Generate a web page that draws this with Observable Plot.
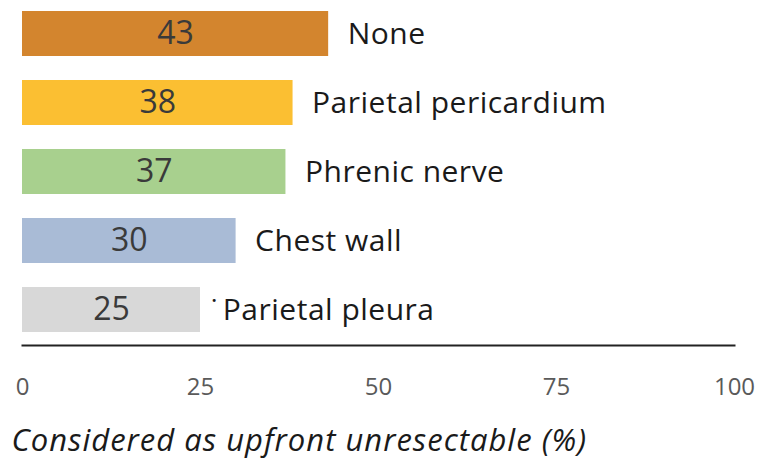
<!DOCTYPE html>
<html>
<head>
<meta charset="utf-8">
<script src="https://cdn.jsdelivr.net/npm/d3@7"></script>
<script src="https://cdn.jsdelivr.net/npm/@observablehq/plot@0.6"></script>
<style>
  html, body { margin: 0; padding: 0; background: #fff; }
  #chart svg { display: block; }
  .cat-label text { letter-spacing: 0.5px; }
  .axis-title text { letter-spacing: 1px; }
</style>
</head>
<body>
<div id="chart"></div>
<script>
const categories = ["None", "Parietal pericardium", "Phrenic nerve", "Chest wall", "Parietal pleura"];
const labels = ["None", "Parietal pericardium", "Phrenic nerve", "Chest wall", "˙\u2009Parietal pleura"];
const values = [43, 38, 37, 30, 25];
const colors = ["#D3852E", "#FBBF32", "#A8D08E", "#A9BBD6", "#D8D8D8"];
const xTicks = [0, 25, 50, 75, 100];
const axisTitle = "Considered as upfront unresectable (%)";

const data = categories.map((c, i) => ({cat: c, label: labels[i], value: values[i], marked: labels[i].startsWith("˙")}));

const chart = Plot.plot({
  width: 762,
  height: 462,
  marginLeft: 22,
  marginRight: 28,
  marginTop: 10,
  marginBottom: 117,
  style: {fontFamily: "'Open Sans', sans-serif", background: "#fff"},
  x: {domain: [0, 100]},
  y: {domain: categories, range: [10, 333], paddingInner: 0.352, paddingOuter: 0, axis: null},
  color: {domain: categories, range: colors},
  marks: [
    Plot.barX(data, {x: "value", y: "cat", fill: "cat"}),
    Plot.text(data, {x: d => d.value / 2, y: "cat", text: d => String(d.value), fontSize: 32, fill: "#3a3a3a", textAnchor: "middle"}),
    Plot.text(data, {filter: d => !d.marked, x: "value", y: "cat", text: "label", dx: 19, fontSize: 30, fill: "#1a1a1a", textAnchor: "start", className: "cat-label"}),
    Plot.text(data, {filter: d => d.marked, x: "value", y: "cat", text: "label", dx: 11, fontSize: 30, fontWeight: 500, fill: "#1a1a1a", textAnchor: "start", className: "cat-label"}),
    Plot.frame({anchor: "bottom", stroke: "#222", strokeWidth: 2}),
    Plot.axisX({ticks: xTicks, tickSize: 0, tickPadding: 32, fontSize: 24, fill: "#5a5a5a", label: null}),
    Plot.text([axisTitle], {frameAnchor: "bottom-left", text: d => d, dx: -11, dy: 96, textAnchor: "start", lineAnchor: "middle", fontSize: 31, fontStyle: "italic", fill: "#1a1a1a", className: "axis-title"})
  ]
});
document.getElementById("chart").appendChild(chart);
</script>
</body>
</html>
